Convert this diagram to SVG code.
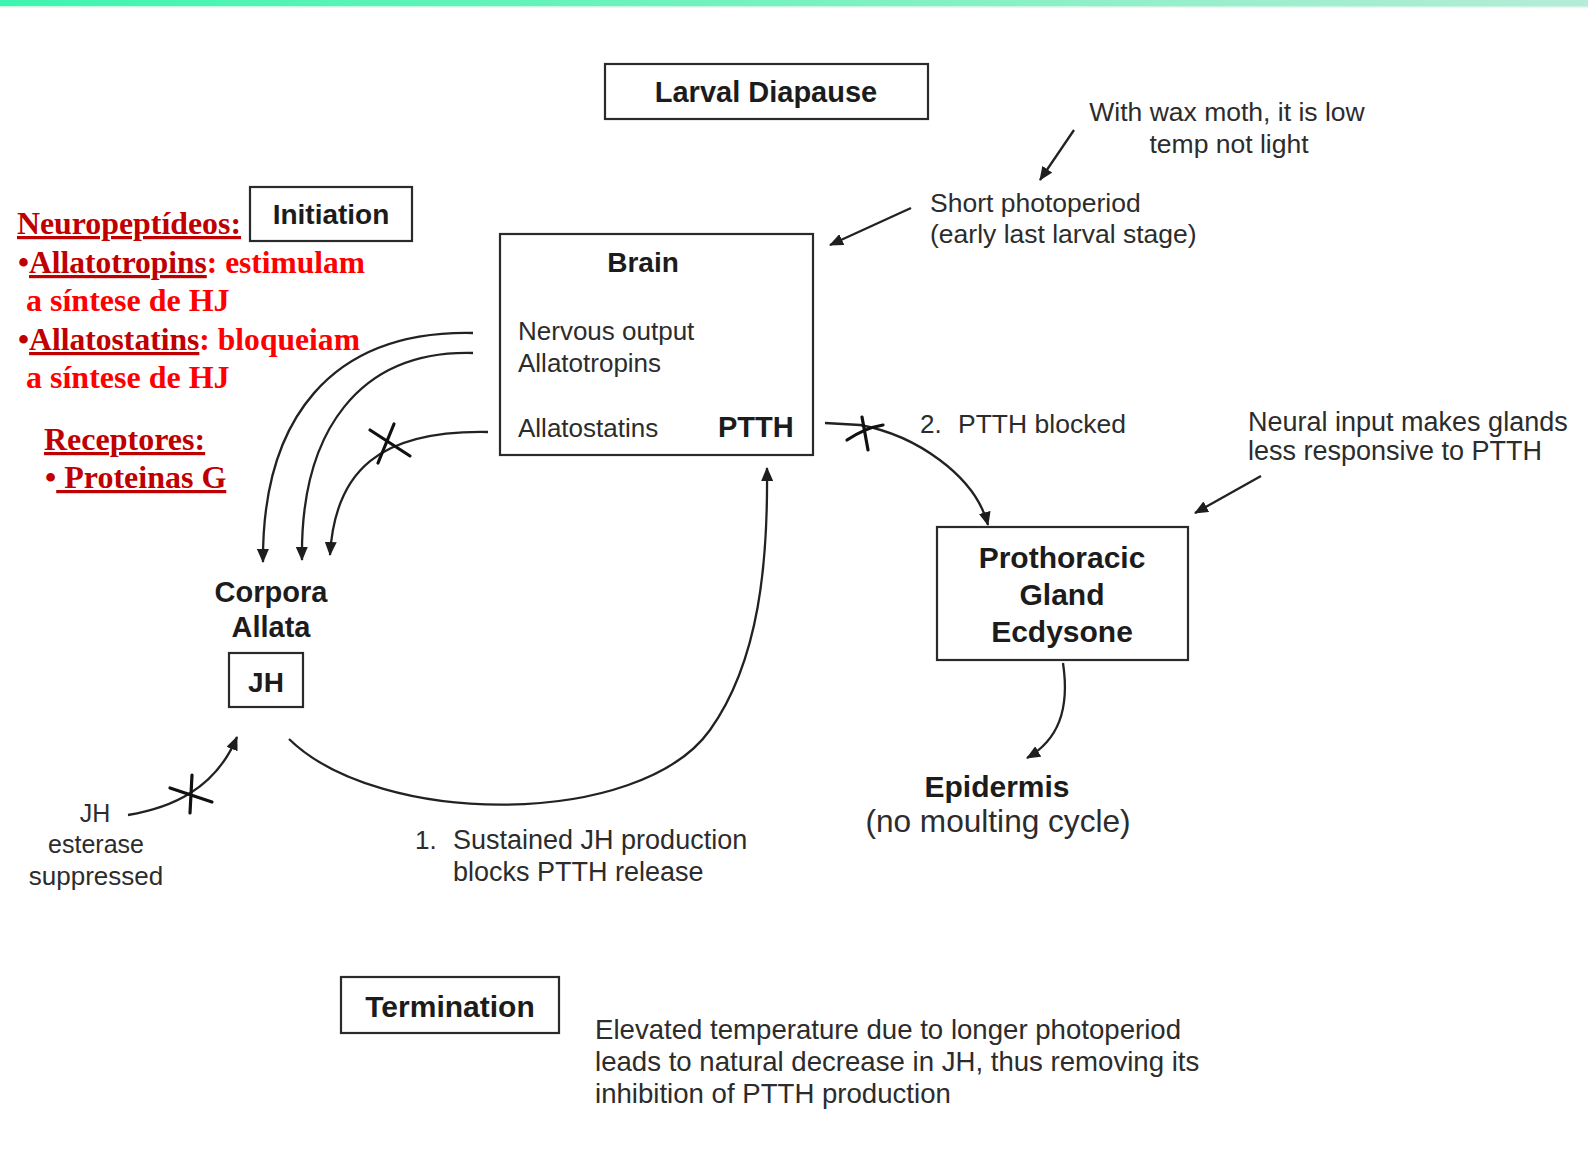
<svg xmlns="http://www.w3.org/2000/svg" width="1588" height="1164" viewBox="0 0 1588 1164">
<defs>
<linearGradient id="topbar" x1="0" y1="0" x2="1" y2="0">
<stop offset="0" stop-color="#3df5b0"/>
<stop offset="0.5" stop-color="#78f2bf"/>
<stop offset="1" stop-color="#b6ecd8"/>
</linearGradient>
<marker id="ah" viewBox="0 0 14 12" refX="13" refY="6" markerWidth="14" markerHeight="12" orient="auto" markerUnits="userSpaceOnUse">
<path d="M0,0 L14,6 L0,12 z" fill="#1e1e1e"/>
</marker>
<style>
.box{fill:#fff;stroke:#2a2a2a;stroke-width:2.2}
.b{font-family:"Liberation Sans",Arial,sans-serif;font-weight:bold;fill:#1c1c1c}
.r{font-family:"Liberation Sans",Arial,sans-serif;fill:#2c2c2c}
.c{text-anchor:middle}
.ln{fill:none;stroke:#222;stroke-width:2.3}
.x{fill:none;stroke:#111;stroke-width:3.2;stroke-linecap:round}
.pt{font-family:"Liberation Serif","Times New Roman",serif;font-weight:bold;font-size:32px}
.dr{fill:#c00000}
.br{fill:#ff0000}
.u{text-decoration:underline}
</style>
</defs>
<rect x="0" y="0" width="1588" height="1164" fill="#fff"/>
<rect x="0" y="0" width="1588" height="6" fill="url(#topbar)"/>
<rect x="0" y="6" width="1588" height="1.5" fill="#c8f6e2"/>

<g id="connectors">
<path class="ln" d="M473 333 C330 330 262 420 263 562" marker-end="url(#ah)"/>
<path class="ln" d="M473 353 C360 350 300 430 302 560" marker-end="url(#ah)" stroke-width="2.8"/>
<path class="ln" d="M488 432 C380 430 335 470 330 555" marker-end="url(#ah)"/>
<path class="x" d="M370 430 L410 456 M394 424 L378 463"/>
<path class="ln" d="M825 423 L860 425 C915 435 975 475 988 525" marker-end="url(#ah)"/>
<path class="x" d="M847 440 Q865 428 883 425 M862 417 L868 450"/>
<path class="ln" d="M911 208 L830 245" marker-end="url(#ah)"/>
<path class="ln" d="M1074 130 L1040 180" marker-end="url(#ah)"/>
<path class="ln" d="M1261 476 L1195 513" marker-end="url(#ah)"/>
<path class="ln" d="M1063 663 C1070 710 1058 740 1027 758" marker-end="url(#ah)"/>
<path class="ln" d="M289 739 C380 828 640 828 710 730 C760 660 768 560 767 468" marker-end="url(#ah)"/>
<path class="ln" d="M128 815 C170 808 215 790 237 737" marker-end="url(#ah)"/>
<path class="x" d="M170 788 L212 802 M192 775 L190 813"/>
</g>

<g id="larval-diapause">
<rect class="box" x="605" y="64" width="323" height="55"/>
<text class="b c" x="766" y="102" font-size="29">Larval Diapause</text>
</g>

<g id="initiation">
<rect class="box" x="250" y="187" width="162" height="54"/>
<text class="b c" x="331" y="224" font-size="28">Initiation</text>
</g>

<g id="brain">
<rect class="box" x="500" y="234" width="313" height="221"/>
<text class="b c" x="643" y="272" font-size="28">Brain</text>
<text class="r" x="518" y="340" font-size="26">Nervous output</text>
<text class="r" x="518" y="372" font-size="26">Allatotropins</text>
<text class="r" x="518" y="437" font-size="26">Allatostatins</text>
<text class="b" x="718" y="437" font-size="29">PTTH</text>
</g>

<g id="corpora-allata">
<text class="b c" x="271" y="602" font-size="29">Corpora</text>
<text class="b c" x="271" y="637" font-size="29">Allata</text>
<rect class="box" x="229" y="653" width="74" height="54"/>
<text class="b c" x="266" y="692" font-size="28">JH</text>
</g>

<g id="prothoracic-gland">
<rect class="box" x="937" y="527" width="251" height="133"/>
<text class="b c" x="1062" y="568" font-size="30">Prothoracic</text>
<text class="b c" x="1062" y="605" font-size="30">Gland</text>
<text class="b c" x="1062" y="642" font-size="30">Ecdysone</text>
</g>

<g id="epidermis">
<text class="b c" x="997" y="797" font-size="30">Epidermis</text>
<text class="r c" x="998" y="832" font-size="31.6">(no moulting cycle)</text>
</g>

<g id="termination">
<rect class="box" x="341" y="977" width="218" height="56"/>
<text class="b c" x="450" y="1017" font-size="30">Termination</text>
</g>

<g id="annotations">
<text class="r c" x="1227" y="121" font-size="26.5">With wax moth, it is low</text>
<text class="r c" x="1229" y="153" font-size="26.5">temp not light</text>
<text class="r" x="930" y="212" font-size="26.5">Short photoperiod</text>
<text class="r" x="930" y="243" font-size="26.5">(early last larval stage)</text>
<text class="r" x="920" y="433" font-size="26">2.</text>
<text class="r" x="958" y="433" font-size="26.5">PTTH blocked</text>
<text class="r" x="1248" y="431" font-size="27">Neural input makes glands</text>
<text class="r" x="1248" y="460" font-size="27">less responsive to PTTH</text>
<text class="r c" x="95" y="822" font-size="25">JH</text>
<text class="r c" x="96" y="853" font-size="25">esterase</text>
<text class="r c" x="96" y="885" font-size="26">suppressed</text>
<text class="r" x="415" y="849" font-size="26">1.</text>
<text class="r" x="453" y="849" font-size="27">Sustained JH production</text>
<text class="r" x="453" y="881" font-size="27">blocks PTTH release</text>
<text class="r" x="595" y="1039" font-size="27.6">Elevated temperature due to longer photoperiod</text>
<text class="r" x="595" y="1071" font-size="27.6">leads to natural decrease in JH, thus removing its</text>
<text class="r" x="595" y="1103" font-size="27.6">inhibition of PTTH production</text>
</g>

<g id="red-notes">
<text class="pt dr u" x="17" y="234" textLength="224" lengthAdjust="spacingAndGlyphs">Neuropeptídeos:</text>
<text class="pt" x="18" y="273" textLength="347" lengthAdjust="spacingAndGlyphs"><tspan class="dr">•</tspan><tspan class="dr u">Allatotropins</tspan><tspan class="br">: estimulam</tspan></text>
<text class="pt br" x="26" y="311">a síntese de HJ</text>
<text class="pt" x="18" y="350" textLength="342" lengthAdjust="spacingAndGlyphs"><tspan class="dr">•</tspan><tspan class="dr u">Allatostatins</tspan><tspan class="br">: bloqueiam</tspan></text>
<text class="pt br" x="26" y="388">a síntese de HJ</text>
<text class="pt dr u" x="44" y="450">Receptores:</text>
<text class="pt" x="45" y="488"><tspan class="dr">•</tspan><tspan class="dr u"> Proteinas G</tspan></text>
</g>
</svg>
